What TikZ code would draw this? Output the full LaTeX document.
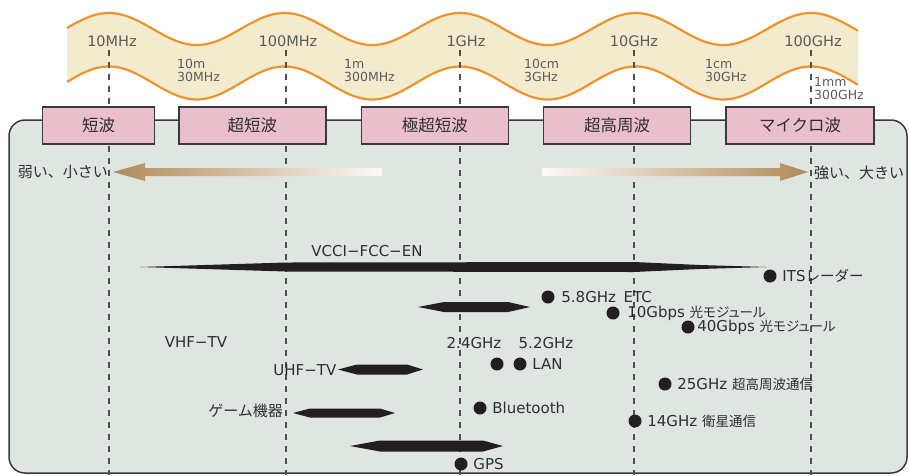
\documentclass[tikz,border=0pt]{standalone}
\usepackage{fontspec}
\setmainfont{DejaVu Sans}
\newfontfamily\jp{Noto Sans CJK JP}
\newfontfamily\jpp{Noto Sans CJK JP}[RawFeature=+palt]
\usetikzlibrary{positioning}
\definecolor{ink}{HTML}{231F20}
\definecolor{frame}{HTML}{3A3A3A}
\definecolor{panelfill}{HTML}{DFE5E1}
\definecolor{bandfill}{HTML}{F2EBCE}
\definecolor{bandline}{HTML}{F0922B}
\definecolor{boxfill}{HTML}{E9BFCB}
\definecolor{tan}{HTML}{B08A58}
\definecolor{txt}{HTML}{2E2E2E}
\definecolor{freqtxt}{HTML}{5A5A5A}
\newcommand\jsmall[1]{{\jpp\fontsize{13.5pt}{15pt}\selectfont #1}}
\tikzset{band/.style={rectangle,draw=frame,fill=boxfill,line width=1.4pt,minimum height=37pt,minimum width=147pt,inner sep=0pt,text=txt,font=\jp\fontsize{16.5pt}{18pt}\selectfont},panel/.style={draw=frame,fill=panelfill,line width=1.5pt,rounded corners=16pt},wave/.style={draw=bandline,line width=2.2pt},grid/.style={draw=frame!90,line width=1.6pt,dash pattern=on 6pt off 6pt},freq/.style={text=freqtxt,inner sep=0pt,font=\fontsize{14.5pt}{16pt}\selectfont},wl/.style={text=freqtxt,inner sep=0pt,align=left,anchor=west,font=\fontsize{12.5pt}{13pt}\selectfont},note/.style={text=txt,inner sep=0pt,font=\jp\fontsize{15pt}{17pt}\selectfont},lbl/.style={text=txt,inner sep=0.5pt,font=\fontsize{15pt}{17pt}\selectfont},dot/.style={circle,fill=ink,minimum size=13pt,inner sep=0pt},spindle/.style={fill=ink}}

\begin{document}
\begin{tikzpicture}[x=1pt,y=-1pt,node distance=5pt]
\useasboundingbox (0,0) rectangle (909,475);
\draw[panel] (9,120) rectangle (907,473);
\fill[bandfill] plot[domain=67:858,samples=160,smooth] (\x,{29-16*cos((\x-109)*2.05128)}) -- plot[domain=858:67,samples=160,smooth] (\x,{83-16.5*cos((\x-109)*2.05128)}) -- cycle;
\draw[wave] plot[domain=67:858,samples=160,smooth] (\x,{29-16*cos((\x-109)*2.05128)});
\draw[wave] plot[domain=67:858,samples=160,smooth] (\x,{83-16.5*cos((\x-109)*2.05128)});
\foreach \f in {109,286,460,634,811} \draw[grid] (\f,50) -- (\f,475);
\node[freq] (f10m) at (112,41) {10MHz};
\node[freq] (f100m) at (288,41) {100MHz};
\node[freq] (f1g) at (466,41) {1GHz};
\node[freq] (f10g) at (634,41) {10GHz};
\node[freq] (f100g) at (813,41) {100GHz};
\node[wl] (w30m) at (177,70.5) {10m\\30MHz};
\node[wl] (w300m) at (344,70.5) {1m\\300MHz};
\node[wl] (w3g) at (524,70.5) {10cm\\3GHz};
\node[wl] (w30g) at (705,70.5) {1cm\\30GHz};
\node[wl] (w300g) at (814,88.5) {1mm\\300GHz};
\node[band,minimum width=112pt] (sw) at (98.5,125.5) {短波};
\node[band,right=23pt of sw] (vhf) {超短波};
\node[band,right=34pt of vhf] (uhf) {極超短波};
\node[band,right=34pt of uhf] (shf) {超高周波};
\node[band,right=34pt of shf,minimum width=148pt] (mw) {マイクロ波};
\node[note,anchor=east] (weak) at (108,172) {弱い、小さい};
\node[note,anchor=west] (strong) at (814,173) {強い、大きい};
\shade[left color=tan,right color=tan!4] (113,172) -- (145,163) -- (145,168) -- (382,168) -- (382,176) -- (145,176) -- (145,181) -- cycle;
\shade[left color=tan!4,right color=tan] (808,172) -- (780,163) -- (780,168) -- (542,168) -- (542,176) -- (780,176) -- (780,181) -- cycle;
\fill[spindle] (140,267) -- (286,262.5) -- (634,262) -- (700,265) -- (767,267) -- (700,269) -- (634,272) -- (286,271.5) -- cycle;
\fill[spindle] (418,307) -- (444,302) -- (508,302) -- (530,307) -- (508,312) -- (444,312) -- cycle;
\fill[spindle] (338,369.5) -- (357,364.5) -- (407,364.5) -- (423,369.5) -- (407,374.5) -- (357,374.5) -- cycle;
\fill[spindle] (293,413) -- (310,408.5) -- (380,408.5) -- (395,413) -- (380,417.5) -- (310,417.5) -- cycle;
\fill[spindle] (350,446) -- (380,440.5) -- (483,440.5) -- (503,446) -- (483,451.5) -- (380,451.5) -- cycle;
\node[lbl] (vcci) at (367,251) {VCCI−FCC−EN};
\node[lbl] (vhftv) at (196,342) {VHF−TV};
\node[lbl,anchor=east] (uhftv) at (337,370) {UHF−TV};
\node[note,anchor=east] (game) at (283,411) {ゲーム機器};
\node[lbl,anchor=west] (g24) at (446,343) {2.4GHz};
\node[lbl,anchor=west] (g52) at (518,343) {5.2GHz};
\node[dot] (dits) at (770,276) {};
\node[dot] (d58) at (548,297) {};
\node[dot] (d10g) at (613,313) {};
\node[dot] (d40g) at (688,327) {};
\node[dot] (d24) at (497,364) {};
\node[dot] (d52) at (520,364) {};
\node[dot] (d25) at (665,384) {};
\node[dot] (dbt) at (480,408) {};
\node[dot] (d14) at (635,421) {};
\node[dot] (dgps) at (461,464) {};
\node[lbl,right=of dits] (its) {ITS{\jp\fontsize{14.5pt}{16pt}\selectfont レーダー}};
\node[lbl,right=6pt of d58] (etc) {5.8GHz\enspace ETC};
\node[lbl,right=7pt of d10g] (m10g) {10Gbps \jsmall{光モジュール}};
\node[lbl,right=2pt of d40g] (m40g) {40Gbps \jsmall{光モジュール}};
\node[lbl,right=of d52] (lan) {LAN};
\node[lbl,right=of d25] (c25) {25GHz \jsmall{超高周波通信}};
\node[lbl,right=of dbt] (bt) {Bluetooth};
\node[lbl,right=of d14] (c14) {14GHz \jsmall{衛星通信}};
\node[lbl,right=of dgps] (gps) {GPS};
\end{tikzpicture}
\end{document}
